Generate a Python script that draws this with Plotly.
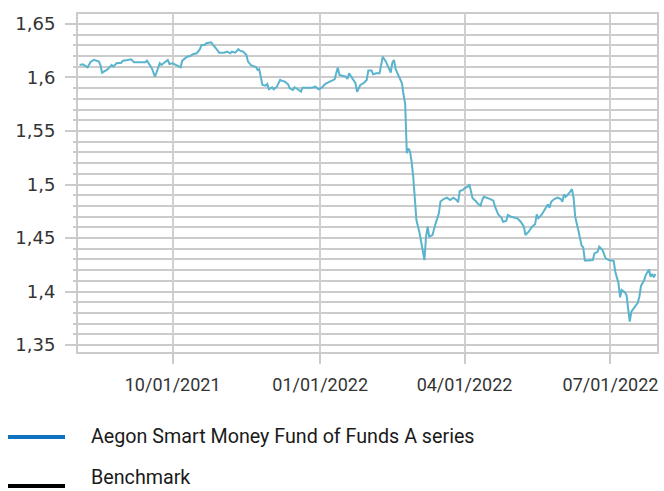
import plotly.graph_objects as go

# ---- data ----
dates = [
    "2021-08-04", "2021-08-06", "2021-08-09", "2021-08-11", "2021-08-13", "2021-08-16", "2021-08-17", "2021-08-18",
    "2021-08-21", "2021-08-24", "2021-08-25", "2021-08-27", "2021-08-30", "2021-08-31", "2021-09-03", "2021-09-05",
    "2021-09-07", "2021-09-10", "2021-09-12", "2021-09-14", "2021-09-15", "2021-09-16", "2021-09-18", "2021-09-20",
    "2021-09-23", "2021-09-24", "2021-09-26", "2021-09-28", "2021-09-29", "2021-10-01", "2021-10-03", "2021-10-05",
    "2021-10-06", "2021-10-07", "2021-10-10", "2021-10-12", "2021-10-14", "2021-10-16", "2021-10-18", "2021-10-19",
    "2021-10-21", "2021-10-22", "2021-10-25", "2021-10-28", "2021-10-30", "2021-11-02", "2021-11-04", "2021-11-06",
    "2021-11-07", "2021-11-09", "2021-11-11", "2021-11-12", "2021-11-14", "2021-11-16", "2021-11-17", "2021-11-19",
    "2021-11-22", "2021-11-23", "2021-11-24", "2021-11-26", "2021-11-28", "2021-11-29", "2021-11-30", "2021-12-02",
    "2021-12-03", "2021-12-05", "2021-12-07", "2021-12-08", "2021-12-10", "2021-12-12", "2021-12-13", "2021-12-15",
    "2021-12-16", "2021-12-18", "2021-12-20", "2021-12-21", "2021-12-24", "2021-12-27", "2021-12-29", "2021-12-31",
    "2022-01-02", "2022-01-04", "2022-01-06", "2022-01-08", "2022-01-10", "2022-01-11", "2022-01-12", "2022-01-13",
    "2022-01-15", "2022-01-17", "2022-01-18", "2022-01-19", "2022-01-21", "2022-01-23", "2022-01-24", "2022-01-26",
    "2022-01-28", "2022-01-30", "2022-01-31", "2022-02-02", "2022-02-03", "2022-02-05", "2022-02-07", "2022-02-08",
    "2022-02-09", "2022-02-11", "2022-02-12", "2022-02-14", "2022-02-15", "2022-02-16", "2022-02-17", "2022-02-19",
    "2022-02-21", "2022-02-22", "2022-02-23", "2022-02-24", "2022-02-25", "2022-02-26", "2022-02-27", "2022-02-28",
    "2022-03-01", "2022-03-02", "2022-03-04", "2022-03-06", "2022-03-07", "2022-03-08", "2022-03-09", "2022-03-10",
    "2022-03-12", "2022-03-14", "2022-03-16", "2022-03-17", "2022-03-19", "2022-03-21", "2022-03-23", "2022-03-25",
    "2022-03-27", "2022-03-28", "2022-03-29", "2022-03-31", "2022-04-01", "2022-04-03", "2022-04-04", "2022-04-06",
    "2022-04-08", "2022-04-09", "2022-04-11", "2022-04-12", "2022-04-13", "2022-04-16", "2022-04-19", "2022-04-20",
    "2022-04-22", "2022-04-24", "2022-04-25", "2022-04-27", "2022-04-28", "2022-04-30", "2022-05-02", "2022-05-04",
    "2022-05-06", "2022-05-08", "2022-05-09", "2022-05-11", "2022-05-13", "2022-05-15", "2022-05-16", "2022-05-17",
    "2022-05-19", "2022-05-21", "2022-05-23", "2022-05-24", "2022-05-25", "2022-05-27", "2022-05-29", "2022-05-31",
    "2022-06-01", "2022-06-02", "2022-06-03", "2022-06-05", "2022-06-07", "2022-06-08", "2022-06-09", "2022-06-11",
    "2022-06-13", "2022-06-14", "2022-06-15", "2022-06-17", "2022-06-20", "2022-06-21", "2022-06-23", "2022-06-24",
    "2022-06-26", "2022-06-28", "2022-06-30", "2022-07-03", "2022-07-04", "2022-07-06", "2022-07-07", "2022-07-08",
    "2022-07-10", "2022-07-11", "2022-07-12", "2022-07-13", "2022-07-14", "2022-07-16", "2022-07-18", "2022-07-19",
    "2022-07-20", "2022-07-22", "2022-07-23", "2022-07-25", "2022-07-26", "2022-07-27", "2022-07-28", "2022-07-29",
]
fund_values = [
    1.6117, 1.6123, 1.6095, 1.6148, 1.6164, 1.6148, 1.6117, 1.6045,
    1.6070, 1.6117, 1.6101, 1.6133, 1.6138, 1.6157, 1.6164, 1.6170,
    1.6142, 1.6142, 1.6148, 1.6142, 1.6157, 1.6133, 1.6086, 1.6007,
    1.6133, 1.6117, 1.6142, 1.6164, 1.6126, 1.6133, 1.6117, 1.6101,
    1.6095, 1.6157, 1.6194, 1.6201, 1.6220, 1.6226, 1.6264, 1.6304,
    1.6304, 1.6320, 1.6329, 1.6273, 1.6232, 1.6232, 1.6241, 1.6226,
    1.6241, 1.6232, 1.6264, 1.6250, 1.6241, 1.6210, 1.6148, 1.6112,
    1.6098, 1.6070, 1.6077, 1.5930, 1.5923, 1.5939, 1.5890, 1.5908,
    1.5890, 1.5914, 1.5977, 1.5970, 1.5961, 1.5936, 1.5899, 1.5883,
    1.5908, 1.5890, 1.5867, 1.5905, 1.5905, 1.5905, 1.5914, 1.5890,
    1.5905, 1.5939, 1.5955, 1.5970, 1.5983, 1.6039, 1.6092, 1.6023,
    1.6014, 1.6007, 1.5986, 1.6039, 1.5993, 1.5946, 1.5867, 1.5930,
    1.5946, 1.5977, 1.6064, 1.6064, 1.6030, 1.6039, 1.6039, 1.6107,
    1.6194, 1.6148, 1.6107, 1.6045, 1.6138, 1.6164, 1.6080, 1.6014,
    1.5946, 1.5836, 1.5752, 1.5292, 1.5338, 1.5307, 1.5213, 1.5073,
    1.4886, 1.4668, 1.4544, 1.4388, 1.4294, 1.4512, 1.4606, 1.4512,
    1.4528, 1.4637, 1.4731, 1.4841, 1.4864, 1.4877, 1.4855, 1.4877,
    1.4855, 1.4834, 1.4939, 1.4949, 1.4964, 1.4979, 1.5002, 1.4871,
    1.4846, 1.4824, 1.4802, 1.4855, 1.4886, 1.4871, 1.4849, 1.4793,
    1.4721, 1.4690, 1.4652, 1.4659, 1.4715, 1.4699, 1.4690, 1.4684,
    1.4652, 1.4606, 1.4528, 1.4559, 1.4606, 1.4628, 1.4721, 1.4684,
    1.4715, 1.4762, 1.4815, 1.4783, 1.4839, 1.4864, 1.4877, 1.4864,
    1.4839, 1.4907, 1.4885, 1.4916, 1.4956, 1.4874, 1.4699, 1.4567,
    1.4427, 1.4414, 1.4290, 1.4290, 1.4294, 1.4357, 1.4372, 1.4419,
    1.4388, 1.4310, 1.4294, 1.4285, 1.4185, 1.4077, 1.3946, 1.4014,
    1.3992, 1.3967, 1.3843, 1.3718, 1.3811, 1.3858, 1.3895, 1.3951,
    1.4051, 1.4107, 1.4154, 1.4207, 1.4138, 1.4164, 1.4133, 1.4164,
]
series_names = ["Aegon Smart Money Fund of Funds A series", "Benchmark"]
x_tick_dates = ["2021-10-01", "2022-01-01", "2022-04-01", "2022-07-01"]
x_tick_labels = ["10/01/2021", "01/01/2022", "04/01/2022", "07/01/2022"]

# ---- layout geometry (pixels) ----
W, H = 664, 491
ML, MR, MT, MB = 78, 7, 14, 139
PW, PH = W - ML - MR, H - MT - MB

def px_x(px):
    return (px - ML) / PW

def px_y(py):
    return (H - MB - py) / PH

GRID = "#cbcbcb"
TEXT = "#333333"

fig = go.Figure()
fig.add_trace(go.Scatter(
    x=dates, y=fund_values, mode="lines", name=series_names[0],
    line=dict(color="#5ab4cd", width=2), showlegend=False,
))

fig.update_layout(
    width=W, height=H,
    margin=dict(l=ML, r=MR, t=MT, b=MB, autoexpand=False),
    paper_bgcolor="white", plot_bgcolor="white",
    separators=",.",
    showlegend=False,
    xaxis=dict(
        type="date", automargin=False,
        range=["2021-08-03", "2022-07-30"],
        tickvals=x_tick_dates, ticktext=x_tick_labels,
        showgrid=True, gridcolor="#d0d0d0", gridwidth=2,
        showline=True, linecolor=GRID, linewidth=2, mirror=True,
        ticks="outside", ticklen=10, tickwidth=2, tickcolor=GRID,
        tickfont=dict(family="Roboto", size=18, color=TEXT),
        ticklabelstandoff=5,
        zeroline=False,
    ),
    yaxis=dict(
        automargin=False,
        range=[1.3435, 1.6593],
        tick0=1.35, dtick=0.05,
        showgrid=True, gridcolor=GRID, gridwidth=2,
        showline=True, linecolor=GRID, linewidth=2, mirror=True,
        ticks="outside", ticklen=11, tickwidth=2, tickcolor=GRID,
        tickfont=dict(family="DejaVu Sans", size=18, color=TEXT),
        ticklabelstandoff=6,
        minor=dict(dtick=0.01, tick0=1.35, showgrid=True, gridcolor=GRID, gridwidth=2,
                   ticks="outside", ticklen=3, tickwidth=2, tickcolor=GRID),
        zeroline=False,
    ),
)

# manual legend
legend_colors = ["#0d73c1", "#000000"]
legend_y = [437, 486]
text_y = [436, 478]
for name, col, ly, ty in zip(series_names, legend_colors, legend_y, text_y):
    fig.add_shape(type="line", xref="paper", yref="paper",
                  x0=px_x(8), x1=px_x(65), y0=px_y(ly), y1=px_y(ly),
                  line=dict(color=col, width=4))
    fig.add_annotation(xref="paper", yref="paper", x=px_x(90), y=px_y(ty),
                       xanchor="left", yanchor="middle", showarrow=False, borderpad=0,
                       text=name, font=dict(family="Roboto", size=19.7, color="#1a1a1a"))

fig.write_html("out.html", config={"displayModeBar": False},
               post_script="document.body.style.margin='0';")
